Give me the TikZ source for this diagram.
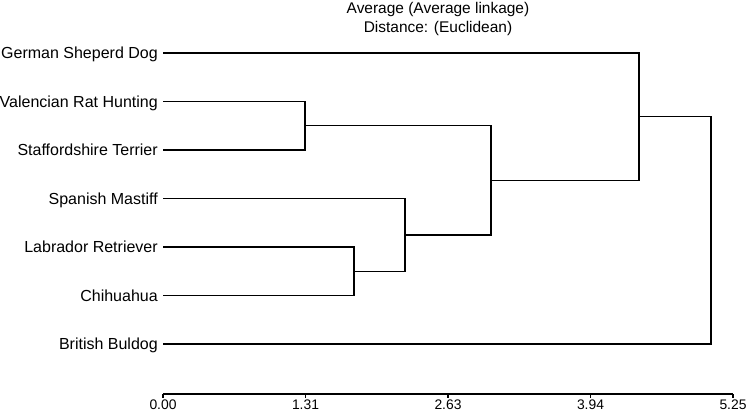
\documentclass[tikz,border=0pt]{standalone}
\usepackage{fontspec}
\setmainfont{Liberation Sans}
\begin{document}
\begin{tikzpicture}[x=0.75pt,y=-0.75pt,
  leaf/.style={anchor=base east,inner sep=0pt,font=\fontsize{12}{14}\selectfont},
  ttl/.style={anchor=base,inner sep=0pt,font=\fontsize{11.6}{14}\selectfont},
  ticklbl/.style={anchor=base,inner sep=0pt,font=\fontsize{10.4}{12}\selectfont},
  link/.style={line width=0.95pt,black},
  axisline/.style={line width=0.95pt,black}]
\useasboundingbox (0,0) rectangle (747,412);
% titles
\node[ttl] (t1) at (438,13) {Average (Average linkage)};
\node[ttl] (t2) at (438,32.5) {Distance: (Euclidean)};
% leaves
\foreach \name/\txt/\y in {l1/German Sheperd Dog/53, l2/Valencian Rat Hunting/101.5,
  l3/Staffordshire Terrier/150, l4/Spanish Mastiff/198.5, l5/Labrador Retriever/247,
  l6/Chihuahua/295.5, l7/British Buldog/344}{
  \node[leaf] (n\name) at (158,\y+5.5) {\txt};
  \coordinate (\name) at (163,\y);
}
% joins
\coordinate (j1) at (305,125.75);
\coordinate (j2) at (354,271.25);
\coordinate (j3) at (405,234.9);
\coordinate (j4) at (491,180.3);
\coordinate (j5) at (639,116.7);
\coordinate (j6) at (711,230.3);
\draw[link] (l2) -| (j1) |- (l3);
\draw[link] (l5) -| (j2) |- (l6);
\draw[link] (l4) -| (j3) |- (j2);
\draw[link] (j1) -| (j4) |- (j3);
\draw[link] (l1) -| (j5) |- (j4);
\draw[link] (j5) -| (j6) |- (l7);
% axis
\coordinate (a0) at (163,394);
\coordinate (a1) at (733,394);
\draw[axisline] (a0) -- (a1);
\foreach \i/\lab in {0/0.00,1/1.31,2/2.63,3/3.94,4/5.25}{
  \coordinate (tk\i) at (163+142.5*\i,394);
  \draw[axisline] (tk\i) -- ++(0,3.5);
  \node[ticklbl] (tl\i) at (163+142.5*\i,409) {\lab};
}
\end{tikzpicture}
\end{document}
